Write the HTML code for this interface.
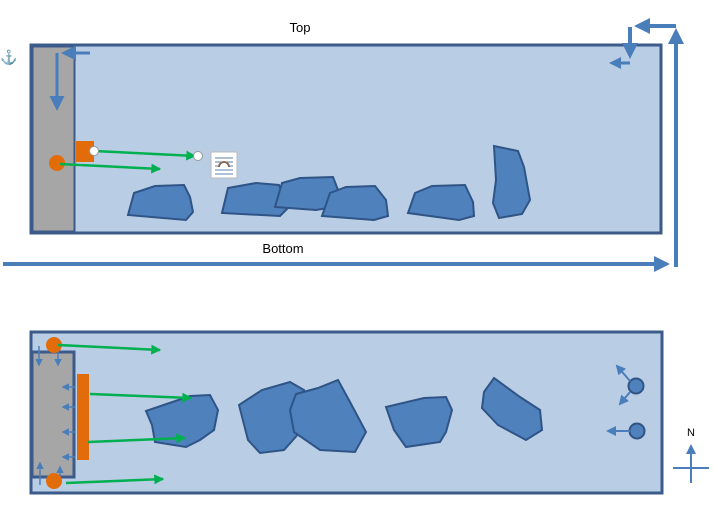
<!DOCTYPE html>
<html><head><style>body{margin:0;background:#fff}svg{display:block}</style></head><body>
<svg width="718" height="507" viewBox="0 0 718 507" xmlns="http://www.w3.org/2000/svg" font-family="Liberation Sans, sans-serif">
<defs>
<marker id="g" markerWidth="4" markerHeight="4" refX="3.5" refY="2" orient="auto" markerUnits="strokeWidth"><path d="M0,0L4,2L0,4z" fill="#00b050"/></marker>
<marker id="b" markerWidth="4" markerHeight="4" refX="3" refY="2" orient="auto" markerUnits="strokeWidth"><path d="M0,0L4,2L0,4z" fill="#4a7ebb"/></marker>
<marker id="bs" markerWidth="5" markerHeight="5" refX="4" refY="2.5" orient="auto" markerUnits="strokeWidth"><path d="M0,0L5,2.5L0,5z" fill="#4a7ebb"/></marker>
</defs>
<!-- top tank -->
<rect x="31" y="45" width="630" height="188" fill="#b9cde5" stroke="#3c5a8a" stroke-width="3"/>
<rect x="32.5" y="46.5" width="42" height="185" fill="#a6a6a6" stroke="#3c5a8a" stroke-width="2"/>
<text x="300" y="32" font-size="13" text-anchor="middle">Top</text>
<text x="283" y="253" font-size="13" text-anchor="middle">Bottom</text>
<text x="0" y="62" font-size="14" fill="#4a7ebb">⚓</text>
<path d="M90,53H64" stroke="#4a7ebb" stroke-width="3" fill="none" marker-end="url(#bs)"/>
<path d="M57,53V108" stroke="#4a7ebb" stroke-width="3" fill="none" marker-end="url(#bs)"/>
<g fill="#4f81bd" stroke="#2f5486" stroke-width="2">
<path d="M134,193L155,186L184,185L190,197L193,212L186,220L128,215z"/>
<path d="M228,188L256,183L279,185L288,208L280,216L222,213z"/>
<path d="M282,183L300,178L333,177L338,190L334,207L316,210L275,207z"/>
<path d="M330,193L346,187L375,186L386,200L388,216L374,220L322,216z"/>
<path d="M415,193L432,186L465,185L473,202L474,216L459,220L408,213z"/>
<path d="M494,146L518,151L524,167L530,200L522,214L499,218L493,203L496,180z"/>
</g>
<rect x="76" y="141" width="18" height="21" fill="#e36c0a"/>
<circle cx="57" cy="163" r="8" fill="#e36c0a"/>
<path d="M94,151L195,156" stroke="#00b050" stroke-width="2.5" marker-end="url(#g)"/>
<path d="M60,164L160,169" stroke="#00b050" stroke-width="2.5" marker-end="url(#g)"/>
<circle cx="94" cy="151" r="4.5" fill="#fff" stroke="#999"/>
<circle cx="198" cy="156" r="4.5" fill="#fff" stroke="#999"/>
<rect x="211" y="152" width="26" height="26" fill="#fff" stroke="#bbb"/>
<path d="M215,158h18M215,162h18M215,166h4m10,0h4M215,170h18M215,174h18" stroke="#5a7fa8"/>
<path d="M219,167a5,5 0 0 1 10,0" stroke="#8a6a5a" stroke-width="2" fill="none"/>
<!-- right/bottom flow arrows -->
<path d="M3,264H666" stroke="#4a7ebb" stroke-width="4" fill="none" marker-end="url(#b)"/>
<path d="M676,267V32" stroke="#4a7ebb" stroke-width="4" fill="none" marker-end="url(#b)"/>
<path d="M676,26H638" stroke="#4a7ebb" stroke-width="4" fill="none" marker-end="url(#b)"/>
<path d="M630,27V55" stroke="#4a7ebb" stroke-width="4" fill="none" marker-end="url(#b)"/>
<path d="M630,63H612" stroke="#4a7ebb" stroke-width="3" fill="none" marker-end="url(#b)"/>
<!-- bottom tank -->
<rect x="31" y="332" width="631" height="161" fill="#b9cde5" stroke="#3c5a8a" stroke-width="3"/>
<rect x="32" y="352" width="42" height="125" fill="#a6a6a6" stroke="#3c5a8a" stroke-width="3"/>
<g stroke="#4a7ebb" stroke-width="1.5" fill="none" marker-end="url(#bs)">
<path d="M39,346V365"/><path d="M58,351V365"/>
<path d="M75,387H63"/><path d="M75,407H63"/><path d="M75,432H63"/><path d="M75,457H63"/>
<path d="M40,485V463"/><path d="M60,485V467"/>
</g>
<rect x="77" y="374" width="12" height="86" fill="#e36c0a"/>
<circle cx="54" cy="345" r="8" fill="#e36c0a"/>
<circle cx="54" cy="481" r="8" fill="#e36c0a"/>
<g fill="#4f81bd" stroke="#2f5486" stroke-width="2">
<path d="M146,411L190,396L210,395L218,410L214,430L200,440L186,447L155,442L152,425z"/>
<path d="M239,405L262,390L290,382L304,390L300,412L300,432L284,450L260,453L248,440z"/>
<path d="M296,394L318,388L338,380L350,402L366,432L355,452L320,450L294,432L290,410z"/>
<path d="M386,407L424,398L446,397L452,410L446,432L440,442L406,447L394,430z"/>
<path d="M484,392L494,378L520,397L540,410L542,430L526,440L498,425L482,408z"/>
</g>
<g stroke="#00b050" stroke-width="2.5" marker-end="url(#g)">
<path d="M58,345L160,350"/>
<path d="M90,394L191,398"/>
<path d="M88,442L185,438"/>
<path d="M66,483L163,479"/>
</g>
<circle cx="636" cy="386" r="7.5" fill="#4f81bd" stroke="#2f5486" stroke-width="2"/>
<circle cx="637" cy="431" r="7.5" fill="#4f81bd" stroke="#2f5486" stroke-width="2"/>
<g stroke="#4a7ebb" stroke-width="2" fill="none" marker-end="url(#bs)">
<path d="M630,381L617,366"/><path d="M630,392L620,404"/><path d="M630,431L608,431"/>
</g>
<path d="M691,483V446" stroke="#4a7ebb" stroke-width="2" marker-end="url(#bs)"/>
<path d="M673,468H709" stroke="#4a7ebb" stroke-width="2"/>
<text x="691" y="436" font-size="11" text-anchor="middle">N</text>
</svg>
</body></html>
